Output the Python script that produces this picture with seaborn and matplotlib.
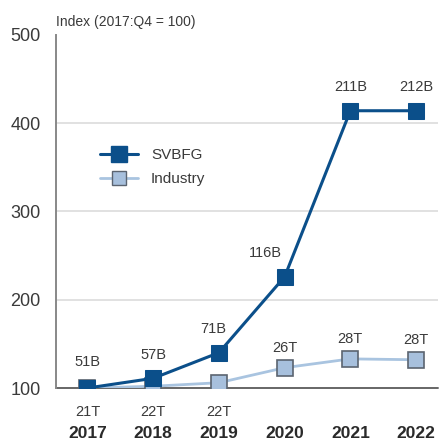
import matplotlib
matplotlib.use("Agg")
import matplotlib.pyplot as plt
import seaborn as sns
import pandas as pd
from matplotlib.lines import Line2D

years = ["2017", "2018", "2019", "2020", "2021", "2022"]
svbfg = [100, 111, 140, 226, 414, 414]
industry = [100, 102, 106, 123, 133, 132]
svbfg_labels = ["51B", "57B", "71B", "116B", "211B", "212B"]
industry_labels = ["21T", "22T", "22T", "26T", "28T", "28T"]
y_ticks = [100, 200, 300, 400, 500]

# label offsets (points) for the SVBFG annotations
svbfg_offsets = [(0, 14), (0, 12), (-4, 12), (-14, 12), (0, 12), (0, 12)]

sns.set_theme(style="white")
plt.rcParams['font.family'] = ['Liberation Sans', 'DejaVu Sans']

dark = "#0b4f8a"
light_line = "#a9c4e0"
light_fill = "#a7c0dd"
edge_grey = "#5b6470"
text_col = "#3a3a3a"

df = pd.DataFrame({"x": list(range(len(years))) * 2,
                   "value": svbfg + industry,
                   "series": ["SVBFG"] * 6 + ["Industry"] * 6})

fig = plt.figure(figsize=(4.4, 4.46), dpi=100)
ax = fig.add_axes([0.127, 0.13, 0.868, 0.792])

sns.lineplot(data=df[df.series == "Industry"], x="x", y="value", ax=ax,
             color=light_line, lw=2, marker="s", markersize=11,
             markerfacecolor=light_fill, markeredgecolor=edge_grey,
             markeredgewidth=1.2, zorder=3, legend=False)
sns.lineplot(data=df[df.series == "SVBFG"], x="x", y="value", ax=ax,
             color=dark, lw=2.2, marker="s", markersize=12,
             markerfacecolor=dark, markeredgecolor=dark, zorder=4, legend=False)

ax.set_xlim(-0.48, 5.33)
ax.set_ylim(100, 500)
ax.set_yticks(y_ticks)
ax.set_yticklabels([str(t) for t in y_ticks])
ax.set_xticks(range(len(years)))
ax.set_xticklabels(years)
ax.tick_params(axis="y", length=0, pad=11, labelsize=13, labelcolor=text_col)
ax.tick_params(axis="x", length=0, pad=27, labelsize=12.5, labelcolor="#2a2a2a")
for t in ax.get_xticklabels():
    t.set_fontweight("bold")
ax.set_xlabel("")
ax.set_ylabel("")

for yv in [200, 300, 400]:
    ax.plot([-0.48, 5.33], [yv, yv], color="#dcdcdc", lw=1.2, zorder=1)
ax.plot([-0.48, 5.33], [100, 100], color="#666666", lw=1.4, zorder=2, clip_on=False)

for s in ["top", "right", "bottom"]:
    ax.spines[s].set_visible(False)
ax.spines["left"].set_color("#888888")
ax.spines["left"].set_linewidth(1.4)

for i, (v, lab) in enumerate(zip(svbfg, svbfg_labels)):
    ax.annotate(lab, (i, v), xytext=svbfg_offsets[i], textcoords="offset points",
                ha="center", va="bottom", fontsize=10.5, color=text_col)
for i, (v, lab) in enumerate(zip(industry, industry_labels)):
    if i < 3:
        ax.annotate(lab, (i, 100), xytext=(0, -12), textcoords="offset points",
                    ha="center", va="top", fontsize=10.5, color=text_col)
    else:
        ax.annotate(lab, (i, v), xytext=(0, 9), textcoords="offset points",
                    ha="center", va="bottom", fontsize=10.5, color=text_col)

ax.text(0.0, 1.015, "Index (2017:Q4 = 100)", transform=ax.transAxes,
        fontsize=10, color=text_col, ha="left", va="bottom")

handles = [Line2D([], [], color=dark, lw=2.2, marker="s", markersize=11,
                  markerfacecolor=dark, markeredgecolor=dark),
           Line2D([], [], color=light_line, lw=2, marker="s", markersize=10,
                  markerfacecolor=light_fill, markeredgecolor=edge_grey)]
ax.legend(handles, ["SVBFG", "Industry"], loc="center left",
          bbox_to_anchor=(0.079, 0.626), frameon=False, fontsize=11,
          handlelength=2.5, handletextpad=0.85, labelspacing=0.65,
          borderpad=0.4, labelcolor=text_col)

fig.savefig("out.png", dpi=100)
